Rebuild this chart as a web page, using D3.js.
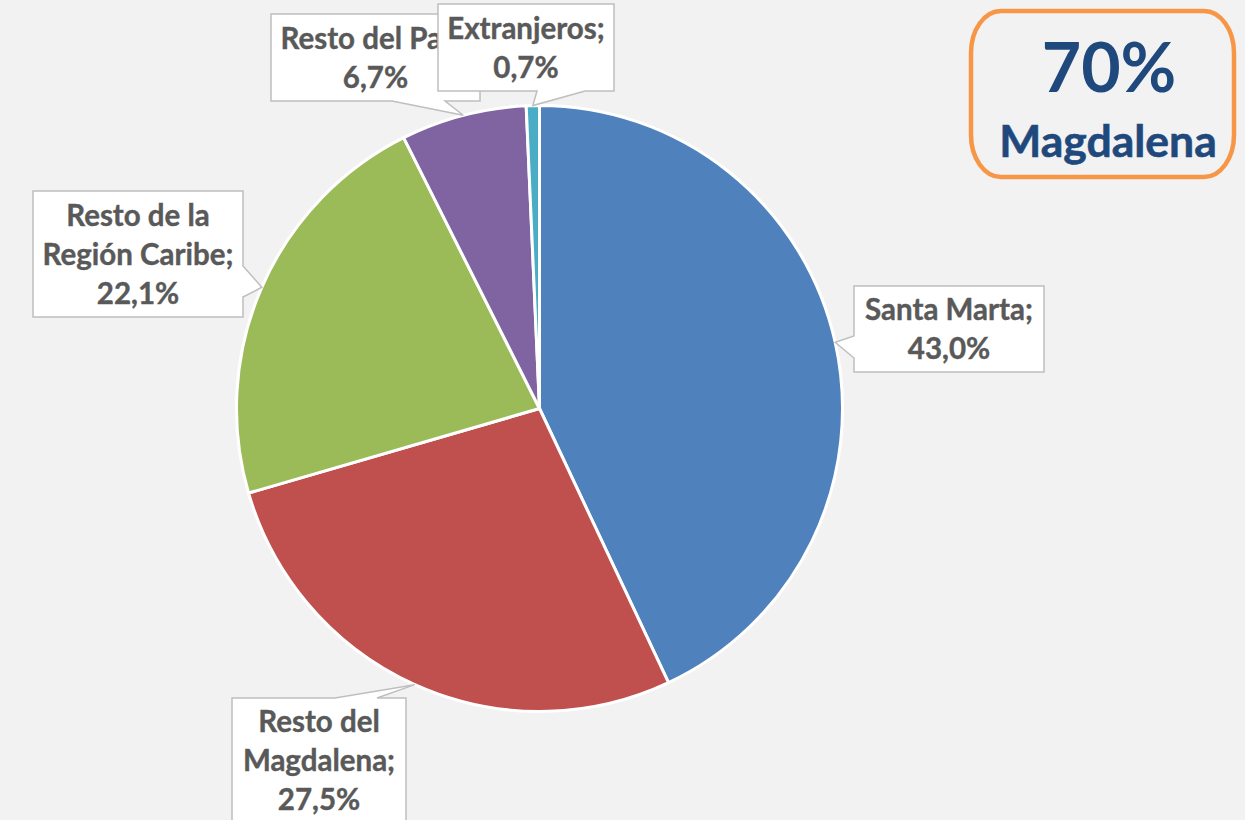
<!DOCTYPE html>
<html lang="es">
<head>
<meta charset="utf-8">
<title>Origen de los visitantes</title>
<script src="https://cdn.jsdelivr.net/npm/d3@7"></script>
<style>
  html, body { margin: 0; padding: 0; background: #F2F2F2; }
  svg { display: block; }
  text { font-family: Lato, "Open Sans", "Liberation Sans", sans-serif; font-weight: 700; }
</style>
</head>
<body>
<svg id="chart" width="1245" height="820"></svg>
<script>
// Data: share of each origin (%)
const categories = ["Santa Marta", "Resto del Magdalena", "Resto de la Región Caribe", "Resto del País", "Extranjeros"];
const values = [43.0, 27.5, 22.1, 6.7, 0.7];
const labelLines = [["Santa Marta;"], ["Resto del", "Magdalena;"], ["Resto de la", "Región Caribe;"], ["Resto del País;"], ["Extranjeros;"]];
const colors = ["#4F81BD", "#C0504D", "#9BBB59", "#8064A2", "#4BACC6"];
const highlightValue = "70%";
const highlightLabel = "Magdalena";

// Layout of the callout boxes: box rectangle, side carrying the pointer, pointer base span
const calloutLayout = [
  { x: 854, y: 286, w: 190, h: 86,  side: "left",   base: [336, 358] },
  { x: 232, y: 698, w: 174, h: 150, side: "top",    base: [335, 377] },
  { x: 33,  y: 191, w: 210, h: 126, side: "right",  base: [266, 297] },
  { x: 271, y: 14,  w: 209, h: 87,  side: "bottom", base: [392, 445] },
  { x: 438, y: 4,   w: 176, h: 87,  side: "bottom", base: [537, 585] }
];

const svg = d3.select("#chart");
const cx = 539.5, cy = 408.5, radius = 303;

const pie = d3.pie().sort(null).value(d => d.value);
const arcs = pie(categories.map((c, i) => ({ name: c, value: values[i], i })));
const arc = d3.arc().innerRadius(0).outerRadius(radius);
const edgeArc = d3.arc().innerRadius(radius).outerRadius(radius);

const g = svg.append("g").attr("transform", `translate(${cx},${cy})`);
g.selectAll("path.slice")
  .data(arcs)
  .join("path")
  .attr("class", "slice")
  .attr("d", arc)
  .attr("fill", d => colors[d.data.i])
  .attr("stroke", "#FFFFFF")
  .attr("stroke-width", 3)
  .attr("stroke-linejoin", "round");

// Callout outline with a pointer wedge toward the slice edge
function calloutPath(b, tip) {
  const x = b.x, y = b.y, r = b.x + b.w, bt = b.y + b.h;
  const [t0, t1] = tip;
  let p = `M${x},${y}`;
  if (b.side === "top") p += `H${b.base[0]}L${t0},${t1}L${b.base[1]},${y}`;
  p += `H${r}`;
  if (b.side === "right") p += `V${b.base[0]}L${t0},${t1}L${r},${b.base[1]}`;
  p += `V${bt}`;
  if (b.side === "bottom") p += `H${b.base[1]}L${t0},${t1}L${b.base[0]},${bt}`;
  p += `H${x}`;
  if (b.side === "left") p += `V${b.base[1]}L${t0},${t1}L${x},${b.base[0]}`;
  return p + "Z";
}

const fmt = v => d3.format(".1f")(v).replace(".", ",") + "%";
const lineGap = 39;

arcs.forEach((d, k) => {
  const b = calloutLayout[k];
  // pointer tip: mid-angle of the slice on its outer edge
  const c = edgeArc.centroid(d);
  const tip = [cx + c[0], cy + c[1]];
  const grp = svg.append("g").attr("class", "callout");
  grp.append("path")
    .attr("d", calloutPath(b, tip))
    .attr("fill", "#FFFFFF")
    .attr("stroke", "#BFBFBF")
    .attr("stroke-width", 1.5)
    .attr("stroke-linejoin", "miter");
  const lines = labelLines[k].concat([fmt(d.data.value)]);
  const blockH = (lines.length - 1) * lineGap;
  const midY = b.side === "top" ? b.y + 62 : b.y + b.h / 2;
  const firstBase = midY - blockH / 2 + 10.5;
  grp.append("text")
    .attr("text-anchor", "middle")
    .attr("fill", "#595959")
    .attr("font-size", 29.5)
    .attr("stroke", "#595959")
    .attr("stroke-width", 0.4)
    .selectAll("tspan")
    .data(lines)
    .join("tspan")
    .attr("x", b.x + b.w / 2)
    .attr("y", (t, j) => firstBase + j * lineGap)
    .text(t => t);
});

// Highlight badge
const badge = svg.append("g").attr("class", "badge");
badge.append("rect")
  .attr("x", 971).attr("y", 11)
  .attr("width", 263).attr("height", 166)
  .attr("rx", 30).attr("ry", 42)
  .attr("fill", "none")
  .attr("stroke", "#F79646")
  .attr("stroke-width", 4.5);
badge.append("text")
  .attr("x", 1109).attr("y", 92)
  .attr("text-anchor", "middle")
  .attr("fill", "#1F497D")
  .attr("font-size", 68)
  .text(highlightValue);
badge.append("text")
  .attr("x", 1108).attr("y", 157)
  .attr("text-anchor", "middle")
  .attr("fill", "#1F497D")
  .attr("stroke", "#1F497D")
  .attr("stroke-width", 0.6)
  .attr("font-size", 44.5)
  .text(highlightLabel);
</script>
</body>
</html>
